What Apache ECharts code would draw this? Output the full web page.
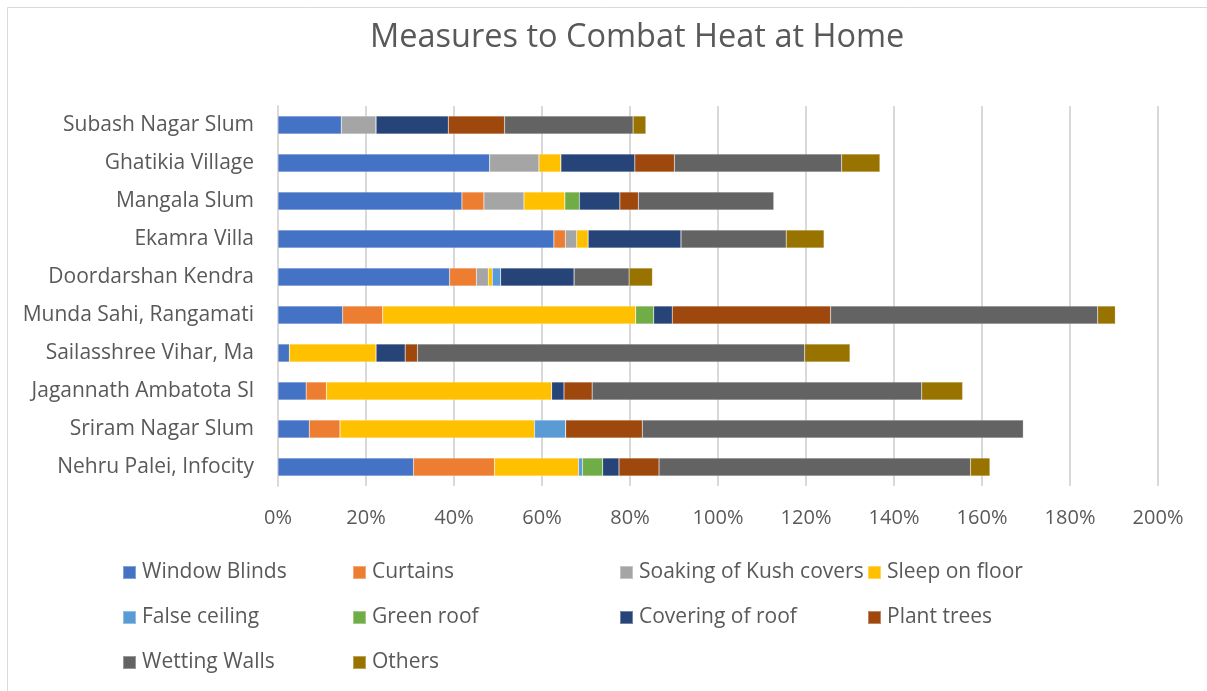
<!DOCTYPE html>
<html>
<head>
<meta charset="utf-8">
<script src="https://cdn.jsdelivr.net/npm/echarts@6/dist/echarts.min.js"></script>
<style>html,body{margin:0;padding:0;background:#fff;}#c{width:1207px;height:691px;}</style>
</head>
<body>
<div id="c"></div>
<script>
const categories = ["Subash Nagar Slum","Ghatikia Village","Mangala Slum","Ekamra Villa","Doordarshan Kendra","Munda Sahi, Rangamati","Sailasshree Vihar, Ma","Jagannath Ambatota Sl","Sriram Nagar Slum","Nehru Palei, Infocity"];
const windowBlinds = [14.4, 48.1, 41.8, 62.7, 39.0, 14.7, 2.6, 6.4, 7.1, 30.8];
const curtains     = [0, 0, 5.0, 2.6, 6.1, 9.1, 0, 4.6, 7.0, 18.4];
const soakingKush  = [7.9, 11.2, 9.1, 2.6, 2.7, 0, 0, 0, 0, 0];
const sleepFloor   = [0, 5.0, 9.3, 2.6, 0.9, 57.5, 19.7, 51.2, 44.2, 19.1];
const falseCeiling = [0, 0, 0, 0, 1.9, 0, 0, 0, 7.1, 0.9];
const greenRoof    = [0, 0, 3.3, 0, 0, 4.1, 0, 0, 0, 4.6];
const coveringRoof = [16.4, 16.8, 9.2, 21.1, 16.7, 4.2, 6.6, 2.8, 0, 3.7];
const plantTrees   = [12.8, 9.0, 4.2, 0, 0, 36.0, 2.8, 6.4, 17.4, 9.1];
const wettingWalls = [29.2, 38.0, 30.8, 23.9, 12.5, 60.7, 88.0, 74.9, 86.6, 70.8];
const others       = [2.9, 8.7, 0, 8.6, 5.3, 4.0, 10.3, 9.3, 0, 4.4];
const xTicks = [0, 20, 40, 60, 80, 100, 120, 140, 160, 180, 200];

const seriesDefs = [
  ["Window Blinds", windowBlinds, "#4472C4"],
  ["Curtains", curtains, "#ED7D31"],
  ["Soaking of Kush covers", soakingKush, "#A5A5A5"],
  ["Sleep on floor", sleepFloor, "#FFC000"],
  ["False ceiling", falseCeiling, "#5B9BD5"],
  ["Green roof", greenRoof, "#70AD47"],
  ["Covering of roof", coveringRoof, "#264478"],
  ["Plant trees", plantTrees, "#9E480E"],
  ["Wetting Walls", wettingWalls, "#636363"],
  ["Others", others, "#997300"]
];

const FONT = "Open Sans";
const TXT = "#595959";
const legendCommon = {
  orient: 'vertical', itemWidth: 13, itemHeight: 13, itemGap: 24, icon: 'rect',
  textStyle: {fontFamily: FONT, fontSize: 21, color: TXT, padding: [0,0,0,1]},
  selectedMode: false, top: 562, padding: 0
};

const chart = echarts.init(document.getElementById('c'), null, {renderer: 'canvas'});
chart.setOption({
  backgroundColor: '#fff',
  animation: false,
  title: {
    text: 'Measures to Combat Heat at Home', left: 365, top: 16,
    textStyle: {fontFamily: FONT, fontSize: 32.5, fontWeight: 'normal', color: TXT}
  },
  graphic: [{type: 'rect', shape: {x: 7.5, y: 7.5, width: 1220, height: 700}, style: {fill: 'none', stroke: '#d9d9d9', lineWidth: 1}, silent: true}],
  legend: [
    Object.assign({left: 122, data: ["Window Blinds", "False ceiling", "Wetting Walls"]}, legendCommon),
    Object.assign({left: 352, data: ["Curtains", "Green roof", "Others"]}, legendCommon),
    Object.assign({left: 619, data: ["Soaking of Kush covers", "Covering of roof"]}, legendCommon),
    Object.assign({left: 867, data: ["Sleep on floor", "Plant trees"]}, legendCommon)
  ],
  grid: {left: 278, right: 49, top: 106, height: 380, containLabel: false},
  xAxis: {
    type: 'value', min: xTicks[0], max: xTicks[xTicks.length - 1], interval: xTicks[1] - xTicks[0],
    axisLine: {show: false}, axisTick: {show: false},
    axisLabel: {formatter: '{value}%', fontFamily: FONT, fontSize: 20, color: TXT, margin: 22},
    splitLine: {show: true, lineStyle: {color: '#d9d9d9', width: 2}}
  },
  yAxis: {
    type: 'category', data: categories, inverse: true,
    axisLine: {show: true, lineStyle: {color: '#d9d9d9', width: 2}}, axisTick: {show: false},
    axisLabel: {fontFamily: FONT, fontSize: 21, color: TXT, margin: 24}
  },
  series: seriesDefs.map(([name, data, color]) => ({
    name, type: 'bar', stack: 'total', data, barWidth: 18,
    itemStyle: {color, borderColor: 'rgba(255,255,255,0.35)', borderWidth: 0.5}
  }))
});
</script>
</body>
</html>
